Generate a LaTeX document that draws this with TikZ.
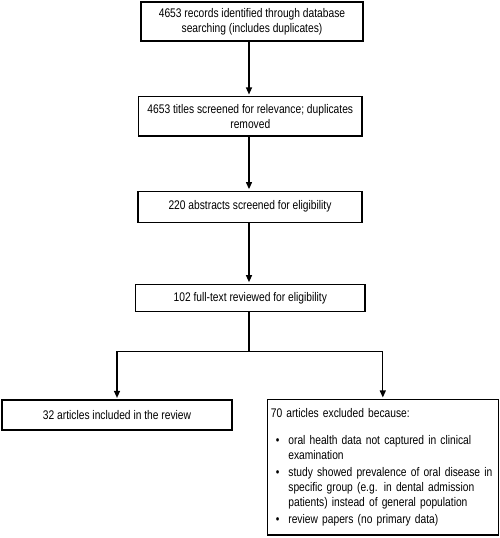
\documentclass[tikz,border=0pt]{standalone}
\usepackage{fontspec}
\setmainfont{Liberation Sans}[FakeStretch=0.82]
\usepackage{tikz}
\usetikzlibrary{shapes,arrows.meta,positioning}

\begin{document}
\begin{tikzpicture}[x=1pt,y=-1pt,
  box/.style={draw, line width=1.2pt, align=center, inner sep=3.5pt,
              font=\fontsize{12.5}{15}\selectfont},
  arrow/.style={line width=1.2pt, -{Triangle[length=7pt,width=6pt]}, shorten >=1.5pt},
  line/.style={line width=1.2pt}]
\useasboundingbox (0,0) rectangle (500,538);
\coordinate (axis) at (249,0);
\node[box, minimum width=222pt, minimum height=39pt] (records) at (252,21.5)
  {4653 records identified through database\\searching (includes duplicates)};
\node[box, minimum width=223.5pt, minimum height=39.5pt] (titles) at (250.3,116.3)
  {4653 titles screened for relevance; duplicates\\removed};
\node[box, minimum width=224pt, minimum height=31pt] (abstracts) at (250,206.7)
  {220 abstracts screened for eligibility};
\node[box, minimum width=229.5pt, minimum height=27.5pt] (fulltext) at (250.3,298)
  {102 full-text reviewed for eligibility};
\coordinate (split) at (249,351.7);
\node[box, minimum width=230pt, minimum height=30pt] (included) at (117,415)
  {32 articles included in the review};
\node[box, minimum width=231pt, minimum height=135.5pt, text width=224pt, align=left] (excluded) at (382.8,467.3)
  {\begin{tabular}{@{}@{\hspace{5pt}}l@{\hspace{9pt}}l@{}}
   \multicolumn{2}{@{}l}{70 articles excluded because:}\\[12pt]
   \textbullet & oral health data not captured in clinical\\
               & examination\\[2pt]
   \textbullet & study showed prevalence of oral disease in\\
               & specific group (e.g. in dental admission\\
               & patients) instead of general population\\[2pt]
   \textbullet & review papers (no primary data)
   \end{tabular}};
% main column
\draw[arrow] (records.south -| axis) -- (titles.north -| axis);
\draw[arrow] (titles.south -| axis) -- (abstracts.north -| axis);
\draw[arrow] (abstracts.south -| axis) -- (fulltext.north -| axis);
% branch
\draw[line] (fulltext.south -| axis) -- (split);
\draw[arrow] (split) -| (included.north);
\draw[arrow] (split) -| (excluded.north);
\end{tikzpicture}
\end{document}
